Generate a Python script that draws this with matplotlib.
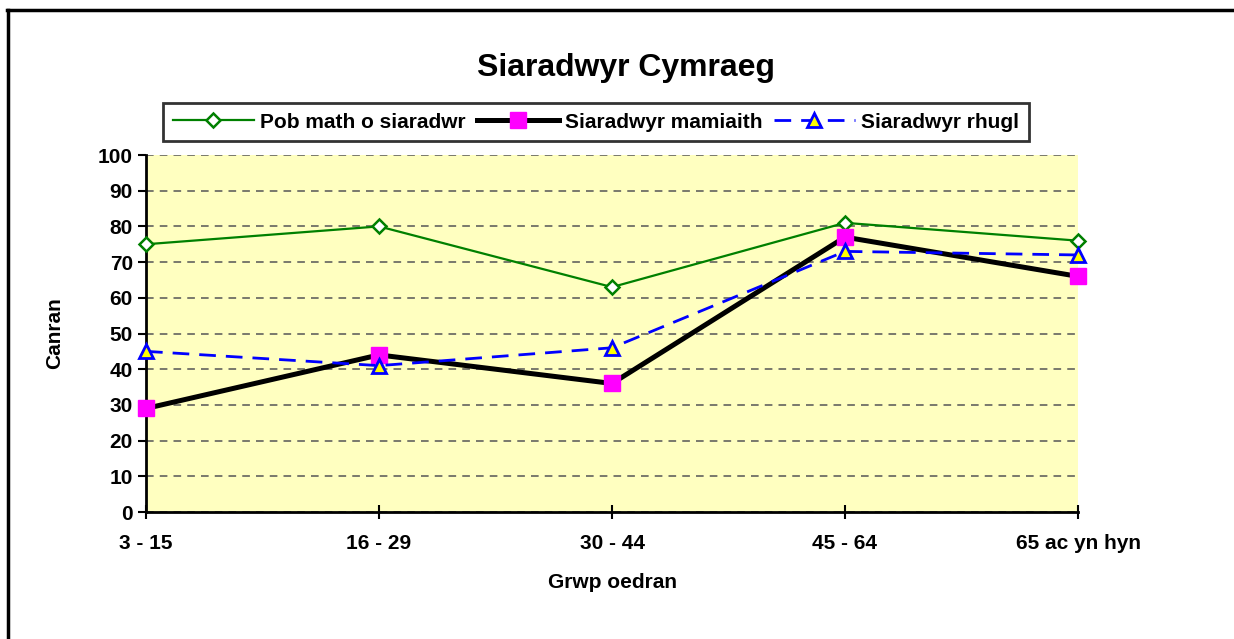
import matplotlib.pyplot as plt
from matplotlib.lines import Line2D

plt.rcParams['font.family'] = ['Liberation Sans', 'DejaVu Sans']
plt.rcParams['font.weight'] = 'bold'

age_groups = ["3 - 15", "16 - 29", "30 - 44", "45 - 64", "65 ac yn hyn"]
all_speakers = [75, 80, 63, 81, 76]
native_speakers = [29, 44, 36, 77, 66]
fluent_speakers = [45, 41, 46, 73, 72]

series_names = ["Pob math o siaradwr", "Siaradwyr mamiaith", "Siaradwyr rhugl"]

fig = plt.figure(figsize=(12.34, 6.39), dpi=100)
ax = fig.add_axes([146 / 1234, 1 - 512 / 639, (1078 - 146) / 1234, (512 - 155) / 639])
ax.set_facecolor('#FFFFC0')

x = list(range(len(age_groups)))

ax.plot(x, all_speakers, color='#008000', lw=1.6, marker='D', ms=7,
        mfc='white', mec='#008000', mew=1.8, clip_on=False, zorder=3,
        label=series_names[0])
ax.plot(x, native_speakers, color='black', lw=3.6, marker='s', ms=11,
        mfc='#FF00FF', mec='#FF00FF', clip_on=False, zorder=4,
        label=series_names[1])
ax.plot(x, fluent_speakers, color='#0000FF', lw=2, ls=(0, (6, 3.6)),
        marker='^', ms=10, mfc='#FFFF00', mec='#0000FF', mew=2,
        clip_on=False, zorder=5, label=series_names[2])

ax.set_xlim(0, len(age_groups) - 1)
ax.set_ylim(0, 100)
ax.set_yticks(range(0, 101, 10))
ax.set_xticks(x)
ax.set_xticklabels(age_groups)
ax.tick_params(axis='both', labelsize=15, width=1.5, length=6, direction='out')
ax.tick_params(axis='x', direction='inout', length=10, pad=11)
for lbl in ax.get_xticklabels() + ax.get_yticklabels():
    lbl.set_fontweight('bold')

# dashed horizontal gridlines
ax.yaxis.grid(True, color='#555555', ls=(0, (5, 4)), lw=1.1)
ax.set_axisbelow(True)
for side in ['top', 'right']:
    ax.spines[side].set_visible(False)
for side in ['left', 'bottom']:
    ax.spines[side].set_linewidth(2)

ax.set_xlabel("Grwp oedran", fontsize=15, fontweight='bold', va='center')
ax.set_ylabel("Canran", fontsize=15, fontweight='bold', va='center')
ax.xaxis.set_label_coords(0.5, (512 - 583) / 357)
ax.yaxis.set_label_coords((55 - 146) / 932, 0.5)

fig.text(626 / 1234, 1 - 68 / 639, "Siaradwyr Cymraeg", ha='center', va='center',
         fontsize=23, fontweight='bold')

leg = fig.legend(loc='center', bbox_to_anchor=(596 / 1234, 1 - 122 / 639), ncol=3,
                 prop={'size': 15, 'weight': 'bold'}, frameon=True, fancybox=False,
                 handlelength=3.9, columnspacing=0.55, handletextpad=0.3,
                 borderpad=0.45, borderaxespad=0)
leg.get_frame().set_edgecolor('black')
leg.get_frame().set_linewidth(2)

# chart border (only top and left edges are visible)
fig.add_artist(Line2D([7 / 1234, 1], [1 - 9.5 / 639] * 2, color='black', lw=2.5))
fig.add_artist(Line2D([7.5 / 1234] * 2, [0, 1 - 9.5 / 639], color='black', lw=2.5))

fig.savefig("out.png", dpi=100)
